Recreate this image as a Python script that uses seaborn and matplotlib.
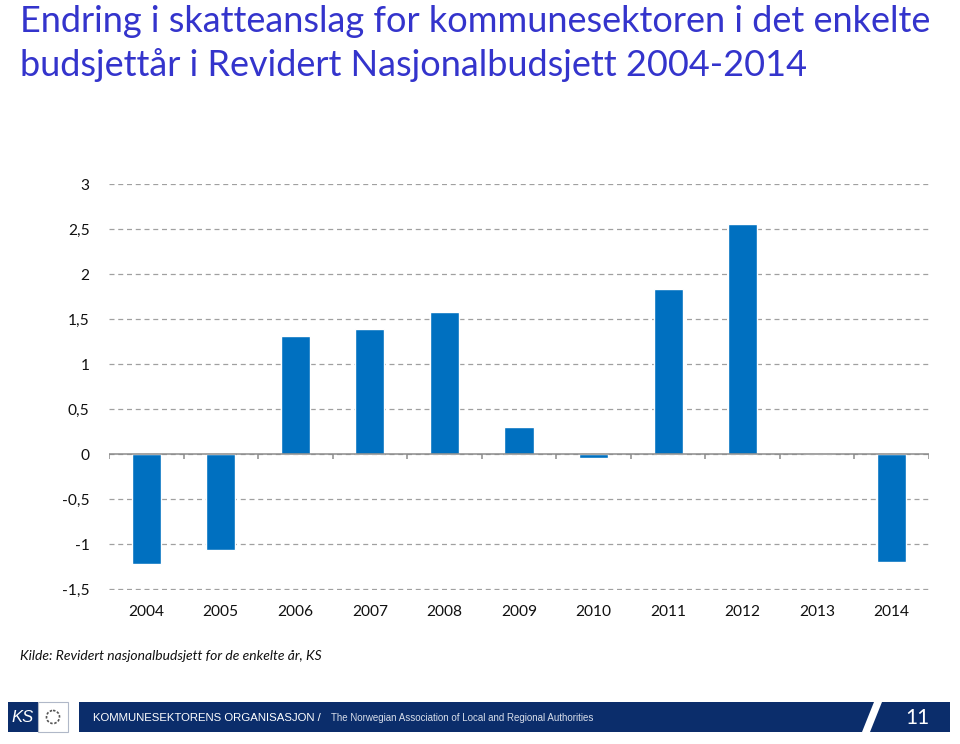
import matplotlib
matplotlib.use("Agg")
import matplotlib.pyplot as plt
import matplotlib.patches as mpatches
import pandas as pd
import seaborn as sns

years = ["2004", "2005", "2006", "2007", "2008", "2009", "2010", "2011", "2012", "2013", "2014"]
values = [-1.22, -1.07, 1.31, 1.39, 1.58, 0.30, -0.045, 1.83, 2.56, 0.0, -1.20]
y_ticks = [-1.5, -1, -0.5, 0, 0.5, 1, 1.5, 2, 2.5, 3]
y_labels = ["-1,5", "-1", "-0,5", "0", "0,5", "1", "1,5", "2", "2,5", "3"]

title_lines = ["Endring i skatteanslag for kommunesektoren i det enkelte",
               "budsjettår i Revidert Nasjonalbudsjett 2004-2014"]
source = "Kilde: Revidert nasjonalbudsjett for de enkelte år, KS"

BAR = "#0070C0"
NAVY = "#0B2D6B"
TITLE = "#3434CC"

sns.set_theme(style="white")
plt.rcParams["font.family"] = ["Lato", "DejaVu Sans"]

W, H = 960, 744
fig = plt.figure(figsize=(W / 100, H / 100), dpi=100)
ax = fig.add_axes([109 / W, (H - 590) / H, (929 - 109) / W, (590 - 184) / H])

df = pd.DataFrame({"year": years, "value": values})
sns.barplot(data=df, x="year", y="value", color=BAR, saturation=1, width=0.39, ax=ax)

ax.set_xlim(-0.5, len(years) - 0.5)
ax.set_ylim(-1.51, 3)
ax.set_yticks(y_ticks)
ax.set_yticklabels(y_labels)
ax.yaxis.grid(True, linestyle=(0, (4, 3)), color="#A0A0A0", linewidth=0.9)
ax.set_axisbelow(True)
ax.axhline(0, color="#8C8C8C", linewidth=1.1, zorder=1)
ax.vlines([i - 0.5 for i in range(len(years) + 1)], -0.06, 0, color="#8C8C8C", linewidth=1.1)
for s in ax.spines.values():
    s.set_visible(False)
ax.tick_params(axis="both", length=0, labelsize=11.2, colors="#111111")
ax.tick_params(axis="y", pad=14)
ax.tick_params(axis="x", pad=11)
ax.set_xlabel("")
ax.set_ylabel("")

# overlay for title, source and footer
ov = fig.add_axes([0, 0, 1, 1], zorder=-1)
ov.set_xlim(0, W)
ov.set_ylim(H, 0)
ov.axis("off")

ov.text(20, 32, title_lines[0], fontsize=26, color=TITLE, va="baseline", ha="left")
ov.text(20, 76, title_lines[1], fontsize=26, color=TITLE, va="baseline", ha="left")
ov.text(20, 656, source, fontsize=10, style="italic", color="#111111", va="center", ha="left")

ov.add_patch(mpatches.Rectangle((8, 702), 30, 30, facecolor=NAVY, edgecolor="none"))
ov.add_patch(mpatches.Rectangle((38, 702), 30, 30, facecolor="white", edgecolor="#B0B8C8", linewidth=0.8))
ov.text(23, 718, "KS", fontsize=12, style="italic", color="white", ha="center", va="center",
        family=["Liberation Sans", "DejaVu Sans"])
ov.add_patch(mpatches.Circle((53, 717), 6.5, facecolor="none", edgecolor="#555555", linewidth=1.2, linestyle=(0, (1.5, 1))))
ov.add_patch(mpatches.Polygon([(79, 702), (874, 702), (862, 732), (79, 732)], closed=True, facecolor=NAVY, edgecolor="none"))
ov.add_patch(mpatches.Polygon([(882, 702), (950, 702), (950, 732), (870, 732)], closed=True, facecolor=NAVY, edgecolor="none"))
ov.text(93, 718, "KOMMUNESEKTORENS ORGANISASJON /", fontsize=8.2, color="white", ha="left", va="center",
        family=["Liberation Sans", "DejaVu Sans"])
ov.text(331, 718, "The Norwegian Association of Local and Regional Authorities", fontsize=7.0, color="#D8DEEA",
        ha="left", va="center", family=["Liberation Sans", "DejaVu Sans"])
ov.text(917, 718, "11", fontsize=15, color="white", ha="center", va="center")

fig.savefig("out.png", dpi=100)
